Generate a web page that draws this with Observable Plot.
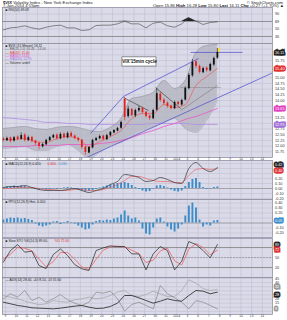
<!DOCTYPE html>
<html><head><meta charset="utf-8">
<script src="https://cdn.jsdelivr.net/npm/d3@7"></script>
<script src="https://cdn.jsdelivr.net/npm/@observablehq/plot@0.6"></script>
<style>
html,body{margin:0;padding:0;background:#fff;overflow:hidden}
#chart{position:relative;width:287px;height:320px;font-family:'Liberation Sans',Arial,sans-serif;color:#222}
#chart svg{position:absolute;left:0;overflow:visible}
.hdr{position:absolute;font-size:4.2px;white-space:nowrap;line-height:4.4px}
</style></head>
<body><div id="chart">
<div class="hdr" style="left:3px;top:0.5px"><b>$VIX</b> Volatility Index - New York Exchange Index</div>
<div class="hdr" style="right:4px;top:0.5px">© StockCharts.com</div>
<div class="hdr" style="left:3px;top:4px">7-Jan-2014 4:15pm</div>
<div class="hdr" style="right:3px;top:4px">Open 15.86 <b>High</b> 16.28 <b>Low</b> 15.80 <b>Last</b> 16.11 <b>Chg</b> +0.27 (+1.70%) ▲</div>
</div>
<script>
// ---------- data ----------
const dayLabels = ["9","10","11","12","13","16","17","18","19","20","23","24","26","27","30","31","2014","3","6","7","8","9","10","13","14"];

const barOpen  = [12.31,12.24,12.36,12.22,12.40,12.30,12.48,12.24,12.38,12.22,12.12,11.97,12.06,12.24,12.36,12.48,12.32,12.52,12.36,12.56,12.44,12.34,12.26,11.96,11.70,11.92,12.24,12.32,12.44,12.28,12.45,12.58,12.66,12.78,14.05,13.30,13.60,13.32,13.55,13.66,13.48,13.32,13.20,13.58,14.28,14.02,13.88,13.76,13.64,13.92,13.80,14.02,14.52,15.08,15.70,15.50,15.22,15.42,15.30,15.56,15.86];
const barHigh  = [12.38,12.40,12.40,12.42,12.45,12.58,12.55,12.44,12.42,12.26,12.16,12.12,12.30,12.42,12.52,12.54,12.58,12.58,12.62,12.62,12.48,12.38,12.30,12.00,11.98,12.30,12.38,12.48,12.48,12.52,12.64,12.72,12.82,13.10,14.13,13.75,13.66,13.62,13.74,13.70,13.52,13.36,13.62,14.53,14.36,14.08,13.94,13.80,13.98,13.96,14.06,14.60,15.18,15.80,15.75,15.55,15.46,15.48,15.64,15.90,16.28];
const barLow   = [12.18,12.20,12.14,12.18,12.24,12.26,12.18,12.20,12.14,12.02,11.84,11.92,12.02,12.20,12.32,12.26,12.28,12.32,12.32,12.36,12.28,12.18,11.86,11.59,11.66,11.88,12.20,12.28,12.22,12.24,12.40,12.54,12.62,12.74,13.10,13.22,13.28,13.24,13.48,13.42,13.24,13.12,13.16,13.52,13.92,13.80,13.66,13.58,13.60,13.76,13.76,13.98,14.46,15.02,15.40,15.16,15.18,15.24,15.26,15.50,15.80];
const barClose = [12.25,12.33,12.20,12.37,12.29,12.46,12.25,12.37,12.20,12.11,11.98,12.07,12.25,12.37,12.46,12.33,12.51,12.37,12.55,12.42,12.33,12.25,11.94,11.72,11.94,12.25,12.33,12.42,12.29,12.46,12.60,12.68,12.77,13.04,13.25,13.62,13.34,13.56,13.65,13.47,13.30,13.21,13.56,14.30,14.00,13.87,13.74,13.65,13.91,13.82,14.00,14.53,15.10,15.67,15.49,15.23,15.40,15.32,15.58,15.84,16.11];

// one value per trading day (every 3 bars)
const bbUpper = [12.77,12.82,12.86,12.77,12.73,12.82,12.86,12.82,12.68,12.64,12.82,13.21,14.09,14.18,14.35,14.88,14.53,14.88,16.11,16.41,16.46];
const bbLower = [11.89,11.94,11.98,11.81,11.81,11.98,12.07,11.81,11.46,11.72,12.03,12.16,12.42,12.68,12.86,13.04,13.21,12.77,12.60,13.12,14.00];
const ma20    = [12.29,12.29,12.33,12.20,12.16,12.33,12.42,12.33,11.98,12.20,12.42,12.68,13.21,13.43,13.43,13.82,13.69,13.82,14.66,15.05,15.40];
const ma50    = [11.98,11.98,11.98,12.03,12.03,12.03,12.07,12.07,12.07,12.11,12.16,12.25,12.37,12.55,12.68,12.86,12.99,13.17,13.30,13.47,13.65];
const ma200   = [13.25,13.21,13.17,13.12,13.04,13.04,12.99,12.99,12.95,12.95,12.95,12.95,12.95,12.95,12.99,12.99,12.99,12.99,12.95,12.95,12.95];

// indicators, one value every 2 bars
const rsi14      = [47.8,53,54.8,58.5,53,49.5,54.8,58.5,60.2,53,53,46,47.8,59.3,60.2,60.2,63.7,70.8,63.7,63.7,53,65.5,68.2,58.5,54.8,63.7,79.8,70.8,62,67.3,69.1];
const macdLine   = [0.02,0.04,0.04,0.06,0.02,-0.02,-0.04,-0.04,-0.04,-0.02,0,-0.04,-0.08,-0.04,0,0.08,0.14,0.28,0.26,0.22,0.14,0.16,0.22,0.18,0.12,0.10,0.40,0.52,0.40,0.34,0.42];
const macdSignal = [0,0,0.02,0.02,0.02,0,-0.02,-0.02,-0.04,-0.04,-0.02,-0.02,-0.04,-0.04,-0.02,0.02,0.08,0.16,0.24,0.24,0.20,0.16,0.14,0.14,0.12,0.12,0.26,0.38,0.40,0.38,0.40];
const stochK     = [36,71,89,66,69,26,17,59,76,56,29,16,11,71,79,85,83,83,61,61,13,61,83,71,13,39,98,89,71,49,89];
const stochD     = [45,60,80,78,70,45,22,38,65,65,45,22,14,45,72,82,84,82,72,62,35,42,70,78,40,28,75,92,80,58,72];
const adx14      = [16.2,14.2,12.2,11,9.3,8.9,8.5,8.1,8.9,10.1,11.4,12.2,10.1,8.5,8.9,11,15,24.3,24.3,21.5,18.2,15,17.4,20.3,18.2,17.4,24.3,30.4,29.6,26.4,28.4];
const plusDI     = [20.3,26.4,22.3,30.4,18.2,22.3,16.2,20.3,25.5,19.1,15,12.2,16.2,28.4,27.1,29.6,20.3,5.3,13.4,16.2,12.2,8.1,36.5,26.4,21.5,16.2,8.1,18.2,16.2,12.2,8.1];
const minusDI    = [24.3,22.3,20.3,17.4,15.4,13,14.2,18.2,17,16.2,19.1,20.3,22.3,20.3,21.5,24.3,28.4,30.4,24.3,23.1,25.5,29.6,26.4,23.1,23.1,30.4,43.4,39.3,32.5,30.4,31.6];

// histograms, one value per bar
const macdHist = [0.02,0.03,0.04,0.05,0.04,0.05,0.04,0.02,0.01,-0.02,-0.03,-0.02,-0.03,-0.02,-0.01,-0.02,-0.01,0.01,0.02,0.01,-0.01,-0.03,-0.05,-0.07,-0.06,-0.04,-0.02,0.01,0.03,0.05,0.07,0.08,0.10,0.11,0.12,0.10,0.06,0.02,-0.02,-0.05,-0.07,-0.06,-0.01,0.05,0.06,0.04,0.01,-0.03,-0.06,-0.07,-0.05,0.04,0.12,0.18,0.20,0.12,0.02,-0.02,-0.01,0.02,0.03];
const ppoHist  = [0.06,0.08,0.10,0.09,0.10,0.08,0.09,0.07,0.05,-0.02,-0.06,-0.08,-0.06,-0.04,0.02,0.03,-0.03,0.01,0.03,0.01,-0.02,-0.06,-0.10,-0.14,-0.12,-0.04,0.03,0.05,0.04,0.06,0.05,0.08,0.10,0.16,0.24,0.14,0.08,0.10,0.04,-0.12,-0.22,-0.24,-0.10,0.08,0.10,0.02,-0.08,-0.14,-0.18,-0.12,-0.04,0.14,0.34,0.40,0.30,0.06,-0.08,-0.04,-0.06,0.04,0.05];

// drawn trend lines (trading day, price)
const blueLines  = [{t1:7.94,p1:12.55,t2:11.03,p2:14.18},{t1:11.03,p1:14.18,t2:18.04,p2:15.84},{t1:7.57,p1:11.50,t2:24.95,p2:15.21},{t1:17.29,p1:16.11,t2:22.15,p2:16.11}];
const blackLines = [{t1:11.03,p1:14.13,t2:13.36,p2:13.56},{t1:14.02,p1:14.57,t2:16.36,p2:13.65}];
const greyLines  = [{t1:16.36,p1:13.56,t2:19.81,p2:14.66}];
const greyDashed = [{t1:16.36,p1:14.57,t2:20.10,p2:14.57}];
const noteBox = [{t1:10.93,t2:14.11,p1:15.49,p2:15.89,label:"VIX'15min cycle"}];

const rsiTicks  = [90,70,50,30];
const mainTicks = [11.75,12,12.25,12.5,12.75,13,13.25,13.5,13.75,14,14.25,14.5,14.75,15,15.25,15.5,15.75,16,16.25];
const macdTicks = [0.5,0.4,0.3,0.2,0.1,0,-0.1,-0.2];
const ppoTicks  = [0.4,0.3,0.2,0.1,0,-0.1,-0.2];
const stoTicks  = [80,50,20];
const adxTicks  = [45,40,35,30,25,20,15,10,5];

// ---------- build ----------
const BG="#dadae8", GRID="#c0c0d2", FRAME="#85859a", RED="#e3211c", BLUE="#3b8ccb", FONT="'Liberation Sans', Arial, sans-serif";
const X_DOMAIN=[-0.28,24.95];
const root=document.getElementById("chart");
const dayIdx=dayLabels.map((d,i)=>i);
const bars=barClose.map((c,j)=>({t:-0.2+j/3,o:barOpen[j],h:barHigh[j],l:barLow[j],c,mh:macdHist[j],ph:ppoHist[j]}));
const samples=rsi14.map((v,m)=>({t:-0.2+m*2/3,rsi:v,macd:macdLine[m],sig:macdSignal[m],k:stochK[m],d:stochD[m],adx:adx14[m],pdi:plusDI[m],mdi:minusDI[m]}));
const bands=bbUpper.map((u,i)=>({t:-0.2+i,u,l:bbLower[i],ma20:ma20[i],ma50:ma50[i],ma200:ma200[i]}));
const up=bars.filter(b=>b.c>=b.o), down=bars.filter(b=>b.c<b.o);

// value box on the right axis: {v, bg, fg, dy}
const boxMark=(b,fmt)=>Plot.text([b.v],{y:d=>d,frameAnchor:"right",dx:2.5,dy:b.dy||0,textAnchor:"start",text:fmt,fontSize:3.8,fill:b.fg,stroke:b.bg,strokeWidth:3,strokeLinejoin:"miter"});
const lbl=(s,i,color,dx=3,top=1.2)=>Plot.text([s],{frameAnchor:"top-left",dx,dy:top+i*3.3,lineAnchor:"top",fontSize:3.3,fill:color});

function panel(top,height,yDomain,ticks,fmt,marks,boxes=[]){
  const pxPerUnit=height/(yDomain[1]-yDomain[0]);
  const shown=ticks.filter(t=>boxes.every(b=>Math.abs((t-b.v)*pxPerUnit-(b.dy||0))>4.2));
  const svg=Plot.plot({
    width:287,height,marginTop:0,marginBottom:0,marginLeft:2,marginRight:15,
    style:{background:"transparent",overflow:"visible",fontFamily:FONT},
    x:{domain:X_DOMAIN,axis:null},
    y:{domain:yDomain,axis:null},
    marks:[
      Plot.frame({fill:BG,stroke:"none"}),
      Plot.ruleX(dayIdx,{stroke:GRID,strokeWidth:0.6}),
      Plot.ruleY(ticks,{stroke:GRID,strokeWidth:0.6}),
      ...marks,
      Plot.frame({stroke:FRAME,strokeWidth:0.7}),
      Plot.text(shown,{y:d=>d,frameAnchor:"right",dx:2.5,textAnchor:"start",text:fmt,fontSize:3.8,fill:"#333"}),
      ...boxes.map(b=>boxMark(b,fmt))
    ]
  });
  svg.style.top=top+"px";
  root.append(svg);
}
const dateAxis=Plot.text(dayLabels,{x:(d,i)=>i,frameAnchor:"bottom",dy:0.5,lineAnchor:"top",fontSize:3.2,fill:"#333"});
const f2=d=>d.toFixed(2), f0=d=>d.toFixed(0);

// RSI
panel(7,36,[11.3,107.3],rsiTicks,f0,[
  Plot.ruleY([70,30],{stroke:"#777",strokeWidth:0.7}),
  Plot.areaY(samples,{x:"t",y1:70,y2:d=>Math.max(d.rsi,70),fill:"#222"}),
  Plot.lineY(samples,{x:"t",y:"rsi",stroke:"#444",strokeWidth:0.6}),
  lbl("■ RSI(14) 69.09",0,"#222")
],[{v:rsi14[30],bg:"#fff",fg:"#222"}]);

// price
panel(43,114,[11.5,16.5],mainTicks,f2,[
  Plot.areaY(bands,{x:"t",y1:"l",y2:"u",fill:"#b3b3bf",fillOpacity:0.75,curve:"monotone-x",clip:true}),
  Plot.lineY(bands,{x:"t",y:"u",stroke:"#9494a2",strokeWidth:0.5,curve:"monotone-x",clip:true}),
  Plot.lineY(bands,{x:"t",y:"l",stroke:"#9494a2",strokeWidth:0.5,curve:"monotone-x",clip:true}),
  Plot.lineY(bands,{x:"t",y:"ma200",stroke:"#b18ee0",strokeWidth:0.8,curve:"monotone-x"}),
  Plot.lineY(bands,{x:"t",y:"ma50",stroke:"#ea55c8",strokeWidth:0.8,curve:"monotone-x"}),
  Plot.lineY(bands,{x:"t",y:"ma20",stroke:"#e86464",strokeWidth:0.8,curve:"monotone-x"}),
  Plot.link(blueLines,{x1:"t1",y1:"p1",x2:"t2",y2:"p2",stroke:"#4848d0",strokeWidth:0.7,clip:true}),
  Plot.link(blackLines,{x1:"t1",y1:"p1",x2:"t2",y2:"p2",stroke:"#333",strokeWidth:0.6}),
  Plot.link(greyLines,{x1:"t1",y1:"p1",x2:"t2",y2:"p2",stroke:"#777",strokeWidth:0.6}),
  Plot.link(greyDashed,{x1:"t1",y1:"p1",x2:"t2",y2:"p2",stroke:"#888",strokeWidth:0.8,strokeDasharray:"2,1"}),
  Plot.ruleX(up,{x:"t",y1:"l",y2:"h",stroke:"#111",strokeWidth:0.6}),
  Plot.ruleX(up,{x:"t",y1:"o",y2:"c",stroke:"#111",strokeWidth:1.8}),
  Plot.ruleX(down,{x:"t",y1:"l",y2:"h",stroke:RED,strokeWidth:0.6}),
  Plot.ruleX(down,{x:"t",y1:"o",y2:"c",stroke:RED,strokeWidth:1.8}),
  Plot.ruleX([bars[bars.length-1]],{x:"t",y1:"c",y2:"h",dx:1.8,stroke:"#ffe400",strokeWidth:1.6}),
  Plot.rect(noteBox,{x1:"t1",x2:"t2",y1:"p1",y2:"p2",fill:"#fff",stroke:"#333",strokeWidth:0.5}),
  Plot.text(noteBox,{x:d=>(d.t1+d.t2)/2,y:d=>(d.p1+d.p2)/2,text:"label",fontSize:4.6,fontWeight:"bold",fill:"#111"}),
  lbl("■ $VIX (15 Minute) 16.11",0,"#222"),
  lbl("— BB(20,2.0) 16.46 - 14.00",1,"#666"),
  lbl("— MA(20) 15.40",2,"#e03030"),
  lbl("— MA(50) 13.65",3,"#e040c0"),
  lbl("— MA(200) 12.95",4,"#a070d8"),
  lbl("— Volume undef",5,"#333"),
  dateAxis
],[
  {v:barClose[60],bg:"#222",fg:"#fff"},
  {v:ma20[20],bg:"#e03030",fg:"#fff"},
  {v:ma50[20],bg:"#e040c0",fg:"#fff"},
  {v:ma200[20],bg:"#a070d8",fg:"#fff"}
]);

// MACD
panel(160,39,[-0.22,0.56],macdTicks,f2,[
  Plot.ruleY([0],{stroke:"#888",strokeWidth:0.6}),
  Plot.ruleX(bars,{x:"t",y1:0,y2:"mh",stroke:BLUE,strokeWidth:1.9}),
  Plot.lineY(samples,{x:"t",y:"sig",stroke:"#e86464",strokeWidth:0.7,curve:"monotone-x"}),
  Plot.lineY(samples,{x:"t",y:"macd",stroke:"#333",strokeWidth:0.7,curve:"monotone-x"}),
  lbl("■ MACD(12,26,9) 0.420,",0,"#222",3,2),
  lbl("0.400,",0,"#e03030",45,2),
  lbl("0.030",0,BLUE,56,2)
],[{v:macdLine[30],bg:"#222",fg:"#fff",dy:-2.3},{v:macdSignal[30],bg:"#e03030",fg:"#fff",dy:2.3}]);

// PPO histogram
panel(199,38,[-0.29,0.47],ppoTicks,f2,[
  Plot.ruleY([0],{stroke:"#888",strokeWidth:0.6}),
  Plot.ruleX(bars,{x:"t",y1:0,y2:"ph",stroke:BLUE,strokeWidth:1.9}),
  lbl("■ PPO(12,26,9) Hist. 0.050",0,"#222")
],[{v:ppoHist[60],bg:BLUE,fg:"#fff"}]);

// Stochastics
panel(238,39,[-9.9,107.1],stoTicks,f0,[
  Plot.ruleY([80,20],{stroke:"#777",strokeWidth:0.7}),
  Plot.ruleY([50],{stroke:"#888",strokeWidth:0.6,strokeDasharray:"2,1"}),
  Plot.lineY(samples,{x:"t",y:"d",stroke:"#e86464",strokeWidth:0.8}),
  Plot.lineY(samples,{x:"t",y:"k",stroke:"#222",strokeWidth:0.7}),
  lbl("■ Slow STO %K(14,3) 89.00,",0,"#222"),
  lbl("%D 72.00",0,"#e03030",52)
],[{v:stochK[30],bg:"#222",fg:"#fff"},{v:stochD[30],bg:"#e03030",fg:"#fff"}]);

// ADX
panel(277,37,[1.2,46.2],adxTicks,f0,[
  Plot.lineY(samples,{x:"t",y:"mdi",stroke:"#9a9a9a",strokeWidth:0.6}),
  Plot.lineY(samples,{x:"t",y:"pdi",stroke:"#7a7a7a",strokeWidth:0.6}),
  Plot.lineY(samples,{x:"t",y:"adx",stroke:"#222",strokeWidth:0.8}),
  lbl("— ADX(14) 28.40, +DI 8.10, -DI 31.60",0,"#222"),
  dateAxis
],[{v:adx14[30],bg:"#222",fg:"#fff",dy:2.3},{v:minusDI[30],bg:"#999",fg:"#fff",dy:-2.3},{v:plusDI[30],bg:"#999",fg:"#fff"}]);
</script></body></html>
